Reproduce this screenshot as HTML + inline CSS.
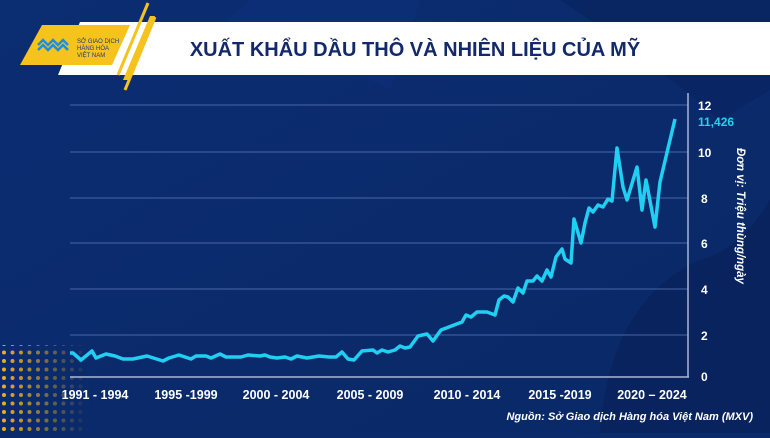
<!DOCTYPE html>
<html><head><meta charset="utf-8"><style>
body{margin:0;width:770px;height:433px;overflow:hidden;background:#0a2a6c;font-family:"Liberation Sans",sans-serif}
</style></head><body>
<svg width="770" height="433" viewBox="0 0 770 433" xmlns="http://www.w3.org/2000/svg">
<defs>
<linearGradient id="bg" x1="0" y1="0" x2="1" y2="1"><stop offset="0" stop-color="#0b2d72"/><stop offset="1" stop-color="#0a2866"/></linearGradient>
<pattern id="dots" width="8.5" height="8.5" patternUnits="userSpaceOnUse"><circle cx="4" cy="4" r="2" fill="#f6b416"/></pattern>
<linearGradient id="fade" x1="0" y1="0" x2="1" y2="0"><stop offset="0" stop-color="#fff" stop-opacity="1"/><stop offset="1" stop-color="#fff" stop-opacity="0"/></linearGradient>
<mask id="dm"><rect x="0" y="345" width="90" height="88" fill="url(#fade)"/></mask>
</defs>
<rect width="770" height="433" fill="url(#bg)"/>
<path d="M560 0 Q650 60 720 120 L770 90 L770 0Z" fill="#08235e" opacity="0.6"/>
<path d="M600 433 Q610 300 700 260 Q740 250 770 200 L770 433Z" fill="#07215a" opacity="0.7"/>
<path d="M180 60 Q300 40 390 90 L420 0 L250 0Z" fill="#0e3380" opacity="0.4"/>
<rect x="0" y="345" width="90" height="88" fill="url(#dots)" mask="url(#dm)"/>
<!-- title bar -->
<polygon points="80,22 770,22 770,75 58,75" fill="#ffffff"/>
<polygon points="42,25 130,25 112,65 20,65" fill="#f6c21c"/>
<line x1="148" y1="3" x2="118" y2="75" stroke="#f6c21c" stroke-width="3"/>
<line x1="155" y1="17" x2="125" y2="90" stroke="#f6c21c" stroke-width="3"/>
<polygon points="150,16 155,16 128,80 123,80" fill="#f6c21c"/>
<g fill="none" stroke="#1c8fe0" stroke-width="2.5">
<path d="M38 45 l5-5 5 5 5-5 5 5 5-5 5 5"/><path d="M38 50 l5-5 5 5 5-5 5 5 5-5 5 5"/></g>
<text x="77" y="43" font-size="6" fill="#1b3a86">SỞ GIAO DỊCH</text>
<text x="77" y="50" font-size="6" fill="#1b3a86">HÀNG HÓA</text>
<text x="77" y="57" font-size="6" fill="#1b3a86">VIỆT NAM</text>
<text x="415" y="56" font-size="20" font-weight="bold" fill="#13296b" text-anchor="middle">XUẤT KHẨU DẦU THÔ VÀ NHIÊN LIỆU CỦA MỸ</text>
<!-- grid -->
<g stroke="#4a66a8" stroke-width="1">
<line x1="70" x2="688" y1="105" y2="105"/><line x1="70" x2="688" y1="152" y2="152"/>
<line x1="70" x2="688" y1="198" y2="198"/><line x1="70" x2="688" y1="243" y2="243"/>
<line x1="70" x2="688" y1="289" y2="289"/><line x1="70" x2="688" y1="335" y2="335"/>
</g>
<line x1="70" x2="689" y1="377" y2="377" stroke="#aab6d6" stroke-width="1.5"/>
<line x1="688" x2="688" y1="93" y2="377" stroke="#aab6d6" stroke-width="1.5"/>
<g fill="#fff" font-size="12" font-weight="bold">
<text x="698" y="110">12</text><text x="698" y="157">10</text><text x="701" y="203">8</text>
<text x="701" y="248">6</text><text x="701" y="294">4</text><text x="701" y="340">2</text><text x="701" y="381">0</text>
</g>
<text x="698" y="126" font-size="12" font-weight="bold" fill="#22d3f0">11,426</text>
<text transform="translate(737,148) rotate(90)" font-size="11.5" font-weight="bold" font-style="italic" fill="#fff">Đơn vị: Triệu thùng/ngày</text>
<polyline fill="none" stroke="#1fd0f2" stroke-width="3.5" stroke-linejoin="round" points="70,353 73,353 81,360 92,351 96,358 106,354 115,356 123,359 133,359 147,356 163,361 169,358 179,355 191,359 196,356 206,356 211,358 220,354 226,357 241,357 248,355 260,356 265,355 270,357 277,358 285,357 291,359 297,356 307,358 319,356 329,357 336,357 342,352 348,359 354,360 362,351 373,350 377,353 382,350 388,352 395,350 400,346 405,348 410,347 418,336 427,334 433,341 441,330 462,322 466,315 471,317 477,312 487,312 495,315 499,300 504,296 508,297 513,302 518,288 523,293 527,281 533,281 537,276 542,281 547,270 551,277 556,257 562,249 565,259 571,263 574,219 581,243 585,223 589,208 593,212 598,205 603,207 608,199 612,201 617,148 623,187 627,200 637,167 642,210 646,180 655,227 660,182 675,119"/>
<g fill="#fff" font-size="12.5" font-weight="bold" text-anchor="middle" font-family="Liberation Sans Narrow, Liberation Sans, sans-serif">
<text x="95" y="399">1991 - 1994</text><text x="186" y="399">1995 -1999</text><text x="276" y="399">2000 - 2004</text>
<text x="370" y="399">2005 - 2009</text><text x="467" y="399">2010 - 2014</text><text x="560" y="399">2015 -2019</text><text x="652" y="399">2020 – 2024</text>
</g>
<text x="753" y="420" font-size="11" font-weight="bold" font-style="italic" fill="#fff" text-anchor="end">Nguồn: Sở Giao dịch Hàng hóa Việt Nam (MXV)</text>
</svg>
</body></html>
